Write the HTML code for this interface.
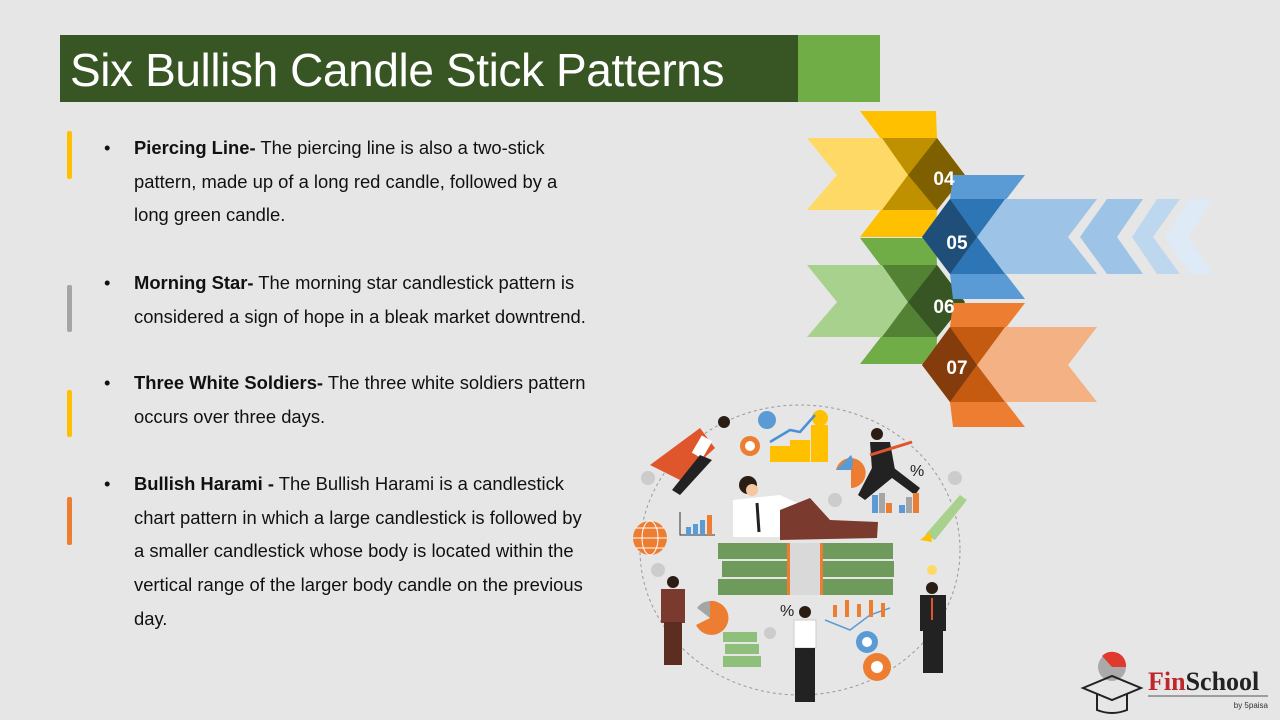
<!DOCTYPE html>
<html><head><meta charset="utf-8"><style>
html,body{margin:0;padding:0}
body{width:1280px;height:720px;background:#e7e6e6;position:relative;overflow:hidden;font-family:"Liberation Sans",sans-serif}
.t{position:absolute;left:60px;top:35px;width:738px;height:67px;background:#375623}
.t2{position:absolute;left:798px;top:35px;width:82px;height:67px;background:#70ad47}
.tt{position:absolute;left:70px;top:40px;color:#fff;font-size:46px;line-height:60px;white-space:nowrap;letter-spacing:-0.4px}
.bar{position:absolute;left:67px;width:5px;border-radius:2px}
.p{position:absolute;left:134px;font-size:18.4px;line-height:33.7px;color:#111;width:459px}
.p:before{content:"•";position:absolute;left:-30px}
</style></head><body>
<div class="t"></div><div class="t2"></div>
<div class="tt">Six Bullish Candle Stick Patterns</div>
<div class="bar" style="top:131px;height:48px;background:#ffc000"></div>
<div class="bar" style="top:285px;height:47px;background:#a5a5a5"></div>
<div class="bar" style="top:390px;height:47px;background:#ffc000"></div>
<div class="bar" style="top:497px;height:48px;background:#ed7d31"></div>
<div class="p" style="top:131px"><b>Piercing Line-</b> The piercing line is also a two-stick pattern, made up of a long red candle, followed by a long green candle.</div>
<div class="p" style="top:266px"><b>Morning Star-</b> The morning star candlestick pattern is considered a sign of hope in a bleak market downtrend.</div>
<div class="p" style="top:366px"><b>Three White Soldiers-</b> The three white soldiers pattern occurs over three days.</div>
<div class="p" style="top:467px"><b>Bullish Harami -</b> The Bullish Harami is a candlestick chart pattern in which a large candlestick is followed by a smaller candlestick whose body is located within the vertical range of the larger body candle on the previous day.</div>

<svg width="1280" height="720" style="position:absolute;left:0;top:0" font-family="Liberation Sans,sans-serif">
<g>
<polygon points="860,111 936,111 937,138 965,175 937,210 936,237 860,237 908,175" fill="#ffc000"/>
<polygon points="807,138 882,138 908,175 882,210 807,210 837,175" fill="#ffd966"/>
<polygon points="882,138 937,138 908,175" fill="#bf9000"/><polygon points="908,175 937,210 882,210" fill="#bf9000"/>
<polygon points="937,138 965,175 937,210 908,175" fill="#7f6000"/>
</g>
<g transform="translate(0,127)">
<polygon points="860,111 936,111 937,138 965,175 937,210 936,237 860,237 908,175" fill="#70ad47"/>
<polygon points="807,138 882,138 908,175 882,210 807,210 837,175" fill="#a9d18e"/>
<polygon points="882,138 937,138 908,175" fill="#548235"/><polygon points="908,175 937,210 882,210" fill="#548235"/>
<polygon points="937,138 965,175 937,210 908,175" fill="#375623"/>
</g>
<g>
<polygon points="1107,199 1143,199 1117,237 1143,274 1107,274 1080,237" fill="#9dc3e6"/>
<polygon points="1157,199 1180,199 1153,237 1180,274 1157,274 1132,237" fill="#bdd7ee"/>
<polygon points="1190,199 1213,199 1188,237 1213,274 1190,274 1165,237" fill="#deebf7"/>
<polygon points="953,175 1025,175 977,237 1025,299 953,299 950,274 922,237 950,199" fill="#5b9bd5"/>
<polygon points="1005,199 1097,199 1068,237 1097,274 1005,274 977,237" fill="#9dc3e6"/>
<polygon points="950,199 1005,199 977,237" fill="#2e75b6"/><polygon points="977,237 1005,274 950,274" fill="#2e75b6"/>
<polygon points="950,199 977,237 950,274 922,237" fill="#1f4e79"/>
</g>
<g transform="translate(0,128)">
<polygon points="953,175 1025,175 977,237 1025,299 953,299 950,274 922,237 950,199" fill="#ed7d31"/>
<polygon points="1005,199 1097,199 1068,237 1097,274 1005,274 977,237" fill="#f4b183"/>
<polygon points="950,199 1005,199 977,237" fill="#c55a11"/><polygon points="977,237 1005,274 950,274" fill="#c55a11"/>
<polygon points="950,199 977,237 950,274 922,237" fill="#843c0c"/>
</g>
<g fill="#fff" font-weight="bold" font-size="19" text-anchor="middle">
<text x="944" y="185">04</text><text x="957" y="249">05</text><text x="944" y="313">06</text><text x="957" y="374">07</text>
</g>

<ellipse cx="800" cy="550" rx="160" ry="145" fill="none" stroke="#999" stroke-dasharray="3,3"/>
<g fill="#ccc"><circle cx="648" cy="478" r="7"/><circle cx="835" cy="500" r="7"/><circle cx="955" cy="478" r="7"/><circle cx="658" cy="570" r="7"/><circle cx="770" cy="633" r="6"/></g>
<rect x="770" y="446" width="22" height="16" fill="#ffc000"/><rect x="790" y="440" width="20" height="22" fill="#ffc000"/><rect x="811" y="425" width="17" height="37" fill="#ffc000"/><circle cx="820" cy="418" r="8" fill="#ffc000"/>
<polyline points="770,442 790,430 800,432 815,415" fill="none" stroke="#4a90d9" stroke-width="2.5"/>
<circle cx="767" cy="420" r="9" fill="#5b9bd5"/><circle cx="750" cy="446" r="10" fill="#ed7d31"/><circle cx="750" cy="446" r="5" fill="#fff"/>
<polygon points="650,465 700,428 715,448 680,480" fill="#e0562c"/>
<rect x="696" y="437" width="12" height="20" fill="#fff" transform="rotate(30 702 447)"/>
<polygon points="700,455 712,460 680,495 672,490" fill="#222"/>
<circle cx="724" cy="422" r="6" fill="#2b1d14"/>
<circle cx="877" cy="434" r="6" fill="#2b1d14"/>
<polygon points="870,442 890,442 895,470 872,470" fill="#222"/>
<polygon points="872,468 894,468 920,488 915,495 892,478 865,500 858,495" fill="#222"/>
<line x1="870" y1="455" x2="912" y2="442" stroke="#e0562c" stroke-width="3"/>
<path d="M836 470 A15 15 0 1 1 851 488 L851 470Z" fill="#ed7d31"/><path d="M836 470 L851 455 A15 15 0 0 1 851 470Z" fill="#5b9bd5"/>
<text x="910" y="476" font-size="16" fill="#222">%</text>
<rect x="872" y="495" width="6" height="18" fill="#5b9bd5"/><rect x="879" y="493" width="6" height="20" fill="#a5a5a5"/><rect x="886" y="503" width="6" height="10" fill="#ed7d31"/><rect x="899" y="505" width="6" height="8" fill="#5b9bd5"/><rect x="906" y="497" width="6" height="16" fill="#a5a5a5"/><rect x="913" y="493" width="6" height="20" fill="#ed7d31"/>
<polygon points="925,535 960,495 967,500 935,540" fill="#a9d18e"/><polygon points="920,540 930,532 932,542" fill="#ffc000"/>
<polyline points="680,512 680,535 715,535" fill="none" stroke="#333"/><rect x="686" y="527" width="5" height="8" fill="#5b9bd5"/><rect x="693" y="524" width="5" height="11" fill="#5b9bd5"/><rect x="700" y="520" width="5" height="15" fill="#5b9bd5"/><rect x="707" y="515" width="5" height="20" fill="#ed7d31"/>
<circle cx="650" cy="538" r="17" fill="#ed7d31"/><g stroke="#fff" stroke-width="1" fill="none"><ellipse cx="650" cy="538" rx="8" ry="17"/><line x1="633" y1="538" x2="667" y2="538"/><line x1="636" y1="528" x2="664" y2="528"/><line x1="636" y1="548" x2="664" y2="548"/></g>
<rect x="718" y="543" width="175" height="16" fill="#6e9a5b"/><rect x="722" y="561" width="172" height="16" fill="#6e9a5b"/><rect x="718" y="579" width="175" height="16" fill="#6e9a5b"/>
<rect x="787" y="543" width="35" height="52" fill="#d9d9d9"/><rect x="787" y="543" width="3" height="52" fill="#ed7d31"/><rect x="820" y="543" width="3" height="52" fill="#ed7d31"/>
<circle cx="748" cy="485" r="9" fill="#2b1d14"/><circle cx="752" cy="490" r="6" fill="#f4c7a1"/>
<polygon points="733,500 780,495 812,510 780,537 733,537" fill="#fff"/>
<polygon points="780,510 810,498 830,520 878,522 877,538 780,540" fill="#7a3b2e"/>
<line x1="757" y1="503" x2="759" y2="532" stroke="#222" stroke-width="3"/>
<circle cx="673" cy="582" r="6" fill="#2b1d14"/><rect x="661" y="589" width="24" height="34" fill="#7a3b2e"/><rect x="664" y="622" width="18" height="43" fill="#5c2e22"/>
<path d="M710 618 L710 601 A17 17 0 1 1 696 625Z" fill="#ed7d31"/><path d="M710 618 L710 601 A17 17 0 0 0 697 608Z" fill="#a5a5a5"/>
<rect x="723" y="632" width="34" height="10" fill="#8ec07c"/><rect x="725" y="644" width="34" height="10" fill="#8ec07c"/><rect x="723" y="656" width="38" height="11" fill="#8ec07c"/>
<circle cx="805" cy="612" r="6" fill="#2b1d14"/><rect x="794" y="620" width="22" height="28" fill="#fff" stroke="#ccc"/><rect x="795" y="648" width="20" height="54" fill="#222"/>
<text x="780" y="616" font-size="16" fill="#222">%</text>
<polyline points="825,620 850,630 870,615 890,608" fill="none" stroke="#5b9bd5" stroke-width="1.5"/>
<g fill="#ed7d31"><rect x="833" y="605" width="4" height="12"/><rect x="845" y="600" width="4" height="17"/><rect x="857" y="604" width="4" height="13"/><rect x="869" y="600" width="4" height="17"/><rect x="881" y="603" width="4" height="14"/></g>
<circle cx="867" cy="642" r="11" fill="#5b9bd5"/><circle cx="867" cy="642" r="5" fill="#fff"/>
<circle cx="877" cy="667" r="14" fill="#ed7d31"/><circle cx="877" cy="667" r="6" fill="#fff"/>
<circle cx="932" cy="588" r="6" fill="#2b1d14"/><rect x="920" y="595" width="26" height="36" fill="#222"/><rect x="923" y="630" width="20" height="43" fill="#222"/><line x1="932" y1="598" x2="932" y2="620" stroke="#e0562c" stroke-width="2"/>
<circle cx="932" cy="570" r="5" fill="#ffd966"/>
<circle cx="1112" cy="667" r="14" fill="#aaa"/><path d="M1102 656 A14 14 0 0 1 1126 667 L1112 667Z" fill="#e03a2f"/>
<polygon points="1083,688 1112,676 1141,688 1112,700" fill="none" stroke="#222" stroke-width="2"/>
<path d="M1097 694 L1097 710 Q1112 716 1127 710 L1127 694" fill="none" stroke="#222" stroke-width="2"/>
<text x="1148" y="690" font-family="Liberation Serif,serif" font-weight="bold" font-size="26"><tspan fill="#c0272d">Fin</tspan><tspan fill="#222">School</tspan></text>
<line x1="1148" y1="696" x2="1268" y2="696" stroke="#555"/>
<text x="1268" y="708" font-size="8" text-anchor="end" fill="#333">by 5paisa</text>
</svg>
</body></html>
